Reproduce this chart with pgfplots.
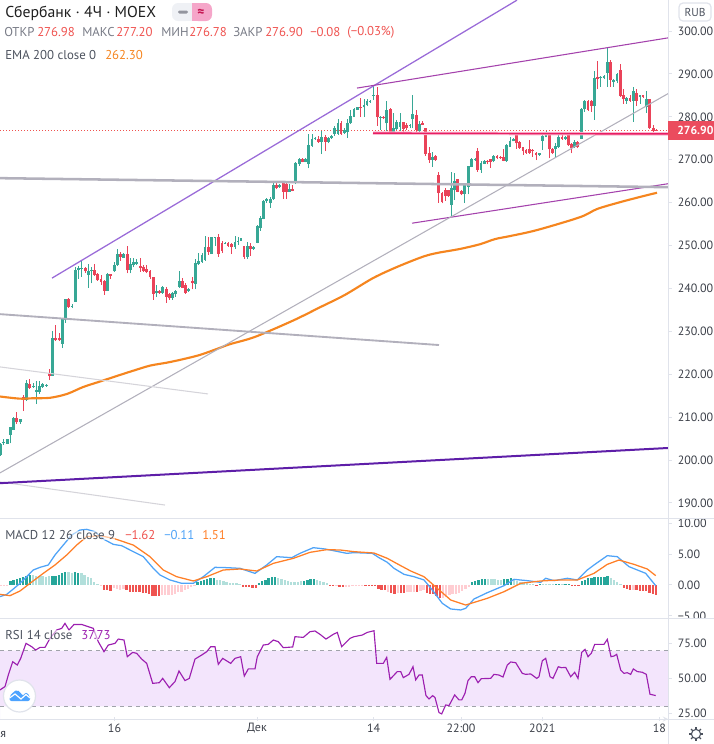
\documentclass[border=0pt]{standalone}
\usepackage{fontspec}
\setmainfont{PT Sans}
\usepackage{pgfplots}
\usepackage{pgfplotstable}
\usetikzlibrary{calc}
\pgfplotsset{compat=1.18}
\definecolor{upc}{HTML}{37A795}
\definecolor{dnc}{HTML}{EA4359}
\definecolor{dg}{HTML}{26A69A}
\definecolor{lg}{HTML}{B2DFDB}
\definecolor{dr}{HTML}{EF5350}
\definecolor{lr}{HTML}{FFCDD2}
\definecolor{sep}{HTML}{E0E3EB}
\definecolor{axt}{HTML}{3C4049}
\definecolor{leg}{HTML}{4C525E}
\definecolor{gry}{HTML}{787B86}
\definecolor{redt}{HTML}{EF5350}
\definecolor{ema}{HTML}{F5851F}
\definecolor{chan}{HTML}{9A6BD8}
\definecolor{mag}{HTML}{A442AC}
\definecolor{tg}{HTML}{B2B0BC}
\definecolor{rsil}{HTML}{9C1FB0}
\definecolor{band}{HTML}{F3E5FC}
\definecolor{crim}{HTML}{E91E63}
\definecolor{deep}{HTML}{5E1EA8}
\definecolor{macdb}{HTML}{4FA3F7}
\definecolor{macdo}{HTML}{FF7F27}
\definecolor{pnk}{HTML}{F5A6C9}
\definecolor{lblr}{HTML}{EB4C5E}
\definecolor{tvb}{HTML}{4DA3FF}
\pgfplotstableread{
x o h l c
0.7 201.2 203.9 201.0 203.7
3.7 203.9 204.8 203.5 204.3
7.3 203.8 205.0 203.7 204.8
10.3 205.8 207.8 203.9 207.8
13.7 207.1 210.1 207.0 209.9
16.7 209.9 211.3 208.5 208.8
20.3 208.8 209.6 208.5 209.5
23.3 214.7 215.1 211.4 214.0
26.3 214.0 218.6 213.7 217.9
29.3 217.8 218.9 216.5 216.9
33.3 217.0 217.9 216.9 217.2
36.3 215.9 218.5 213.0 216.3
39.3 215.8 218.4 215.5 217.3
42.3 217.1 217.9 216.9 217.8
46.3 217.4 217.7 217.1 217.6
49.3 220.3 221.1 218.6 219.6
52.3 219.6 230.1 219.6 228.4
55.3 228.5 231.5 227.7 227.9
59.3 228.5 229.5 227.7 227.9
62.3 227.0 233.2 226.1 233.0
65.3 232.6 237.5 232.0 237.5
68.3 237.5 237.7 235.5 235.6
72.0 235.8 236.4 235.4 236.0
75.3 236.9 244.9 236.9 244.3
78.3 244.3 245.2 242.3 244.7
81.7 244.6 246.5 242.7 244.8
85.3 244.7 244.9 243.6 244.0
88.3 243.1 245.8 240.2 244.1
91.7 244.0 245.1 241.2 244.4
94.7 244.4 245.7 243.0 243.2
97.7 243.3 243.7 241.8 241.9
101.0 242.2 243.1 240.8 241.5
104.3 241.7 241.9 238.5 239.4
107.3 239.4 243.5 239.4 243.3
110.7 243.3 243.3 242.2 242.9
114.3 244.0 246.2 243.9 245.4
117.3 245.4 249.1 245.2 248.0
120.3 248.0 248.5 246.4 247.4
123.7 247.2 248.2 247.2 248.0
127.3 248.0 249.9 243.5 244.4
130.3 244.4 247.0 243.5 245.6
133.3 245.5 247.0 244.9 246.2
136.7 245.8 246.8 245.4 246.2
140.3 245.3 247.2 243.9 244.7
143.7 244.9 245.4 243.9 244.1
146.7 244.5 245.4 243.5 243.8
150.0 244.0 244.3 242.3 242.6
153.3 242.7 242.7 237.4 238.8
156.7 239.0 240.8 238.1 239.3
159.7 239.5 239.6 238.7 239.0
162.7 239.0 240.5 238.7 240.3
166.3 239.9 240.4 236.7 238.1
169.3 238.7 239.0 237.4 237.7
172.7 237.8 239.2 237.4 239.0
175.7 238.6 239.6 238.1 239.5
179.3 240.4 244.0 240.2 241.7
182.7 241.7 242.5 240.0 240.2
185.7 240.8 241.2 238.7 239.0
188.7 239.5 240.2 239.2 239.9
192.3 241.7 242.6 239.8 241.2
195.3 241.0 246.8 239.8 246.0
198.7 245.6 248.3 245.4 246.4
202.0 246.2 248.2 246.0 247.8
205.0 246.6 252.2 246.5 249.7
208.3 249.6 252.0 247.8 248.6
211.7 248.0 252.0 248.0 251.9
215.0 251.7 252.0 249.9 251.9
218.3 252.0 252.8 247.4 248.0
222.0 250.6 251.1 248.2 248.8
225.0 250.5 250.9 250.3 250.7
228.0 250.6 250.8 249.7 249.9
231.7 250.3 250.5 248.0 249.6
235.0 249.6 252.2 249.3 250.9
238.0 250.8 252.0 250.1 251.1
241.0 251.1 251.8 251.0 251.7
244.0 250.0 250.0 246.9 247.4
247.3 247.4 250.9 246.9 250.0
250.3 249.9 250.7 247.6 249.2
253.7 249.2 249.9 249.0 249.7
257.3 250.7 254.8 250.5 254.5
260.3 254.1 256.9 253.4 256.3
263.7 256.2 260.6 256.1 260.4
266.7 260.3 261.0 260.0 260.8
270.3 259.8 261.2 258.8 260.8
273.3 260.8 264.5 260.6 264.0
276.7 264.0 265.0 263.1 263.4
279.7 263.6 264.3 263.5 264.1
283.3 264.6 264.6 260.8 262.5
286.3 264.4 264.6 260.8 262.5
289.3 262.5 264.3 262.5 263.1
292.7 263.1 264.1 262.6 262.8
295.7 264.6 269.5 264.3 269.3
299.3 269.1 270.3 268.6 270.2
302.3 270.2 270.5 269.4 269.5
305.3 269.5 270.3 269.4 270.2
308.3 269.0 276.1 268.0 273.4
312.0 273.2 276.0 273.0 274.9
315.0 274.8 275.2 274.6 275.1
318.3 274.8 275.6 274.0 274.2
321.7 274.2 276.6 271.3 275.2
325.3 275.4 275.8 272.0 274.2
328.3 274.2 275.4 273.8 275.1
331.7 275.1 275.7 274.9 275.5
334.7 276.0 277.9 275.5 277.3
338.0 276.0 279.5 275.8 278.5
341.0 278.6 279.0 275.8 276.0
344.3 276.3 277.3 276.0 276.9
347.3 276.5 279.4 275.1 278.6
350.7 278.5 281.7 278.3 280.2
354.0 279.9 282.1 279.9 281.8
357.3 281.6 282.4 281.6 282.3
360.3 282.3 284.5 279.9 282.0
364.0 282.2 284.1 279.9 282.8
367.0 282.7 284.1 282.5 283.6
370.0 283.4 283.9 283.3 283.8
373.3 284.9 287.4 283.9 285.1
377.3 285.1 287.0 277.9 279.9
380.3 279.7 280.2 276.9 279.9
383.7 280.0 280.3 279.4 279.7
386.7 278.5 283.8 276.7 281.7
390.3 281.9 282.1 275.8 276.5
393.3 276.5 280.8 276.3 277.3
396.7 277.2 279.3 276.9 278.7
400.0 277.7 280.8 276.8 278.7
403.3 278.7 278.9 276.3 277.2
406.3 278.2 278.5 276.9 277.4
410.0 278.0 278.3 277.3 278.2
412.7 279.4 285.1 277.3 280.6
416.3 280.4 281.6 276.3 276.9
419.3 276.8 279.0 276.2 278.4
422.3 278.5 279.0 278.1 278.2
425.7 277.3 277.5 270.9 271.3
429.3 271.5 272.9 269.3 269.9
432.3 269.9 271.9 268.4 270.7
435.3 270.9 271.0 269.8 269.9
438.7 266.4 267.2 260.0 262.2
442.0 262.2 262.5 259.8 260.2
445.3 262.9 263.3 260.4 261.5
448.3 262.9 262.9 261.4 261.5
451.3 259.4 267.2 256.7 263.4
454.7 262.9 266.8 260.6 265.1
457.7 265.4 265.6 262.4 262.5
461.3 262.8 262.9 261.7 261.9
464.7 262.0 264.5 260.0 264.1
468.3 263.7 268.5 261.9 268.5
471.7 268.4 270.5 268.2 270.2
475.0 269.9 270.3 269.8 270.2
477.3 272.1 272.7 267.2 267.6
481.0 267.6 269.7 267.0 269.3
484.3 269.1 269.9 269.0 269.7
487.3 269.7 269.9 268.9 269.4
490.3 270.1 270.1 268.1 269.5
493.3 269.6 271.0 269.4 270.9
497.0 270.9 271.0 270.1 270.5
500.3 270.7 270.9 270.2 270.4
503.3 270.6 272.4 269.6 269.8
506.7 269.7 273.7 269.5 273.4
510.0 273.0 275.4 273.0 274.4
513.3 274.3 275.1 274.3 274.8
516.3 276.3 276.3 272.5 273.8
519.3 274.2 274.4 272.6 272.7
523.0 272.9 273.0 271.1 272.0
526.0 272.3 272.5 271.3 271.6
529.3 272.4 274.6 271.4 271.6
532.7 272.3 272.4 270.7 272.0
536.0 271.6 271.8 269.9 271.0
539.3 271.1 271.6 270.9 271.5
542.7 274.4 275.8 272.3 275.5
546.0 275.2 276.8 275.2 275.8
549.3 276.3 276.3 270.3 272.4
552.3 272.4 272.7 271.3 271.6
555.3 272.4 273.8 270.3 273.2
558.7 273.0 275.8 272.8 275.4
562.0 275.4 275.8 274.7 274.9
565.3 274.9 275.5 274.6 275.4
568.7 275.8 275.9 273.3 273.4
571.3 273.7 273.8 271.5 272.7
574.7 272.9 274.6 272.7 274.2
577.7 274.2 274.4 272.7 272.9
581.3 274.8 282.1 274.8 281.8
584.7 281.8 283.9 281.2 283.8
588.0 283.7 283.9 281.4 281.6
591.3 283.7 283.9 281.2 282.5
594.3 282.5 290.7 279.3 289.0
597.3 289.2 292.9 286.4 288.8
600.7 289.0 289.5 287.0 289.2
604.0 289.1 289.7 288.8 289.4
607.3 290.3 296.0 287.0 292.7
610.7 292.7 293.2 286.9 288.6
613.7 288.2 288.7 287.0 288.6
617.0 288.4 290.1 287.8 290.0
620.3 290.9 292.3 284.7 284.9
623.3 285.1 286.6 283.0 284.1
626.7 283.7 284.7 283.0 284.3
630.0 284.5 285.1 283.5 283.7
633.3 283.8 286.9 278.9 286.1
636.3 285.6 286.6 282.5 283.8
640.0 284.7 285.2 283.1 285.0
643.0 285.1 285.2 284.5 284.6
646.3 282.2 286.1 281.0 284.1
649.7 284.1 284.2 277.1 277.3
653.7 277.3 278.0 276.0 276.8
656.0 276.98 277.20 276.78 276.90
}\candles
\pgfplotstableread[row sep=\\]{
v k \\
-.16 4\\ -.16 4\\ -.16 4\\ .65 1\\ .75 1\\ .97 1\\ 1.08 1\\ 1.29 1\\ 1.51 1\\ 1.61 1\\
1.61 2\\ 1.51 2\\ 1.45 2\\ 1.40 2\\ 1.34 2\\ 1.40 2\\ 1.40 1\\ 1.45 1\\ 1.61 1\\ 1.99 1\\
2.04 1\\ 2.04 2\\ 1.99 2\\ 2.04 1\\ 1.99 1\\ 1.88 2\\ 1.61 2\\ 1.34 2\\ 1.08 2\\ .43 2\\
.16 2\\ -.16 4\\ -.75 3\\ -.81 3\\ -.91 3\\ -.54 4\\ -.65 4\\ -.75 4\\ -.65 4\\ -.81 3\\
-1.08 3\\ -1.08 3\\ -1.18 3\\ -1.18 3\\ -1.29 3\\ -1.29 3\\ -1.51 3\\ -1.83 3\\ -1.83 3\\ -1.77 3\\
-1.61 4\\ -1.61 4\\ -1.61 4\\ -1.61 4\\ -1.40 4\\ -1.18 4\\ -1.08 4\\ -.75 4\\ -.65 4\\ -.32 4\\
-.11 4\\ .54 1\\ .65 1\\ .86 1\\ .97 1\\ 1.08 1\\ 1.18 1\\ .86 2\\ .75 2\\ .65 2\\
.54 2\\ .32 2\\ .32 2\\ .32 2\\ .16 2\\ -.27 3\\ -.27 3\\ -.32 3\\ -.43 3\\ -.54 3\\
.32 1\\ .65 1\\ .86 1\\ 1.08 1\\ 1.24 1\\ 1.29 1\\ 1.08 2\\ .97 2\\ .86 2\\ .65 2\\
.54 2\\ .43 2\\ .54 2\\ .65 2\\ .70 1\\ .86 1\\ .97 1\\ .97 1\\ .86 2\\ .65 2\\
.43 2\\ .27 2\\ -.05 3\\ -.05 3\\ -.11 4\\ -.27 3\\ -.32 3\\ -.38 4\\ -.32 4\\ -.22 4\\
-.11 4\\ -.05 4\\ -.05 4\\ -.05 3\\ -.05 3\\ -.05 3\\ -.11 3\\ -.65 3\\ -.75 3\\ -.86 3\\
-1.08 4\\ -1.29 3\\ -1.40 3\\ -1.29 4\\ -1.34 3\\ -1.34 3\\ -1.18 4\\ -1.18 4\\ -1.08 4\\ -1.08 3\\
-.97 4\\ -.86 4\\ -1.29 3\\ -1.40 3\\ -1.51 3\\ -1.83 3\\ -2.15 3\\ -2.04 4\\ -1.94 4\\ -1.61 4\\
-1.51 4\\ -1.40 4\\ -1.29 4\\ -.97 4\\ -.65 4\\ -.27 4\\ .43 1\\ .65 1\\ .81 1\\ .91 1\\
.97 1\\ .97 2\\ .97 2\\ .97 2\\ .86 2\\ .86 2\\ .97 1\\ .97 1\\ 1.08 1\\ .86 2\\
.65 2\\ .54 2\\ .54 2\\ .38 2\\ .22 2\\ .11 2\\ -.11 3\\ .11 1\\ .22 2\\ .11 2\\
.16 2\\ .16 2\\ .22 1\\ .22 1\\ .22 2\\ .22 1\\ .16 1\\ -.11 3\\ -.11 3\\ -.16 3\\
.65 1\\ .86 1\\ 1.08 1\\ 1.18 1\\ 1.29 1\\ 1.29 1\\ 1.29 1\\ 1.34 1\\ 1.40 1\\ 1.18 2\\
.86 2\\ .54 2\\ .16 2\\ -.54 3\\ -.65 3\\ -.75 3\\ -.75 4\\ -.86 3\\ -.97 3\\ -.97 3\\
-.97 3\\ -1.29 3\\ -1.51 3\\ -1.62 3\\
}\hist
\pgfplotsset{
  base/.style={scale only axis,width=501pt,xmin=0,xmax=668,axis y line=right,
    axis line style={draw=sep,line width=.75pt,-},
    tick style={draw=sep,line width=.75pt},tick align=outside,major tick length=3pt,
    yticklabel style={font=\fontsize{9.0}{10}\selectfont,text=axt,inner sep=0pt,anchor=west,xshift=4.2pt},
    clip=true},
  wick/.style={draw=none,mark=none,forget plot,error bars/.cd,y dir=plus,y explicit,error mark=none,
    error bar style={color=#1,solid,line width=.75pt,line cap=butt}},
  body/.style={draw=none,mark=none,forget plot,error bars/.cd,y dir=plus,y explicit,error mark=none,
    error bar style={color=#1,solid,line width=2pt,line cap=butt}},
  bars/.style={ycomb,mark=none,color=#1,line width=1.75pt,line cap=butt,forget plot},
}
\begin{document}
\begin{tikzpicture}
\path[use as bounding box] (0pt,0pt) rectangle (535.5pt,-558pt);
\begin{axis}[base,axis x line=none,at={(0pt,-388.5pt)},anchor=south west,height=388.5pt,
  ymin=186.48,ymax=307.23,
  ytick={190,200,210,220,230,240,250,260,270,280,290,300},
  yticklabels={190.00,200.00,210.00,220.00,230.00,240.00,250.00,260.00,270.00,280.00,290.00,300.00}]
% dotted last price
\addplot[color=redt,line width=.75pt,dash pattern=on .75pt off 1.5pt,forget plot] coordinates {(0,276.9)(668,276.9)};
% candles
\addplot[wick=upc] table[x=x,y=l,y error plus expr={(\thisrow{c}>=\thisrow{o})*(\thisrow{h}-\thisrow{l})}] {\candles};
\addplot[wick=dnc] table[x=x,y=l,y error plus expr={(\thisrow{c}<\thisrow{o})*(\thisrow{h}-\thisrow{l})}] {\candles};
\addplot[body=upc] table[x=x,y=o,y error plus expr={(\thisrow{c}>=\thisrow{o})*(\thisrow{c}-\thisrow{o})}] {\candles};
\addplot[body=dnc] table[x=x,y=c,y error plus expr={(\thisrow{c}<\thisrow{o})*(\thisrow{o}-\thisrow{c})}] {\candles};
% EMA
\addplot[color=ema,line width=1.6pt,smooth,tension=.5] coordinates {
(0,214.8)(20,214.3)(33,214.4)(50,214.5)(67,215.4)(83,217.0)(100,218.3)(117,219.6)(133,220.8)(150,222.0)
(167,222.7)(183,223.5)(200,224.5)(217,225.9)(230,227.0)(255,228.7)(293,232.5)(320,235.6)(345,238.5)(373,242.4)
(397,245.0)(423,247.4)(438,248.3)(460,249.2)(480,250.3)(495,251.5)(510,252.2)(537,253.6)
(580,256.6)(597,258.5)(620,260.1)(643,261.5)(657,262.3)};
% drawings
\addplot[color=chan,line width=.95pt] coordinates {(52,242.4)(517,307.2)};
\addplot[color=mag,line width=.8pt] coordinates {(357,286.7)(668,298.4)};
\addplot[color=mag,line width=.8pt] coordinates {(412,255.2)(668,264.4)};
\addplot[color=tg,line width=.8pt] coordinates {(0,197.0)(668,285.4)};
\addplot[color=tg,line width=1.9pt] coordinates {(0,265.7)(668,263.6)};
\addplot[color=tg,line width=1.4pt] coordinates {(0,234.0)(439,226.8)};
\addplot[color=tg!55,line width=.8pt] coordinates {(0,221.7)(208,215.4)};
\addplot[color=tg!55,line width=.8pt] coordinates {(0,194.9)(165,189.5)};
\addplot[color=deep,line width=1.5pt] coordinates {(0,194.6)(668,202.8)};
\addplot[color=crim!30,line width=2.6pt] coordinates {(373,276.2)(668,276.0)};
\addplot[color=crim,line width=1.1pt] coordinates {(373,276.2)(668,276.0)};
\end{axis}
\begin{axis}[base,axis x line=none,at={(0pt,-463.7pt)},anchor=south west,height=75.2pt,ymin=-5.37,ymax=10.81,
  ytick={-5,0,5,10},yticklabels={−5.00,0.00,5.00,10.00}]
\addplot[bars=dg] table[x expr={\coordindex*3.228+0.7},y expr={(\thisrow{k}==1)*\thisrow{v}}] {\hist};
\addplot[bars=lg] table[x expr={\coordindex*3.228+0.7},y expr={(\thisrow{k}==2)*\thisrow{v}}] {\hist};
\addplot[bars=dr] table[x expr={\coordindex*3.228+0.7},y expr={(\thisrow{k}==3)*\thisrow{v}}] {\hist};
\addplot[bars=lr] table[x expr={\coordindex*3.228+0.7},y expr={(\thisrow{k}==4)*\thisrow{v}}] {\hist};
\addplot[color=macdb,line width=.95pt] coordinates {
(0,-1.88)(6.7,-1.51)(13.3,-.65)(20,.27)(26.7,1.34)(33.3,2.42)(40,2.85)(48.3,3.23)(55,4.84)(63.3,6.45)(71.7,8.06)(80,8.87)(86.7,8.98)(95,8.60)(103.3,7.42)(113.3,6.56)(121.7,6.34)(133.3,5.38)(143.3,4.57)(153.3,2.69)(160,1.61)(170,.81)(181.7,.27)(193.3,.27)(203.3,1.34)(215,2.85)(226.7,2.80)(240,2.69)(255,1.88)(266.7,3.23)(276.7,4.57)(291.7,4.41)(300,5.11)(313.3,6.02)(325,5.81)(346.7,5.11)
(354,5.22)(372.3,5.11)(379,4.41)(387.3,3.66)(394,2.69)(404,1.72)(414,1.34)(424,.81)(432.3,-.81)(442.3,-2.96)(450.7,-3.87)(460.7,-4.03)(465.7,-3.76)(474,-2.26)(487.3,-1.24)(504,-.11)(514,.91)(527.3,.70)(540.7,.43)(545.7,1.08)(554,.70)(567.3,1.08)(577.3,.81)(587.3,2.42)(594,3.23)(607.3,4.73)(617.3,4.57)(629,2.96)(645.7,1.88)(655.7,-.11)};
\addplot[color=macdo,line width=.95pt] coordinates {
(0,-1.51)(10,-1.72)(20,-.97)(30,.27)(43.3,1.88)(55,3.23)(66.7,4.84)(76.7,6.45)(86.7,7.80)(100,7.96)(113.3,7.53)(133.3,6.45)(150,4.57)(163.3,2.42)(176.7,1.34)(193.3,.65)(206.7,1.34)(223.3,2.42)(240,2.58)(256.7,2.26)(273.3,3.49)(293.3,4.30)(310,5.27)(326.7,5.70)(340,5.65)
(354,5.38)(374,5.16)(387.3,4.30)(400.7,3.12)(410.7,2.26)(424,1.34)(437.3,-.54)(450.7,-2.42)(465.7,-3.23)(487.3,-2.15)(504,-1.08)(520.7,.27)(540.7,.65)(560.7,.81)(577.3,.81)(594,1.88)(607.3,3.33)(619,4.03)(634,3.33)(647.3,2.58)(655.7,1.51)};
\end{axis}
\fill[white] (501.5pt,-463.7pt) rectangle (535.5pt,-473pt);
\begin{axis}[base,at={(0pt,-539.25pt)},anchor=south west,height=75.5pt,ymin=20.86,ymax=93.3,
  axis x line=bottom,xtick={114.5,257,373.7,461,542.3,659.3},xticklabels={16,Дек,14,22:00,2021,18},
  xticklabel style={font=\fontsize{9.0}{10}\selectfont,text=axt,inner sep=0pt,anchor=center,yshift=-5.2pt},
  ytick={25,50,75},yticklabels={25.00,50.00,75.00}]
\addplot[fill=band,draw=none,forget plot] coordinates {(0,30)(668,30)(668,70)(0,70)} \closedcycle;
\addplot[color=gry!70,line width=.75pt,dash pattern=on 3pt off 3pt] coordinates {(0,70)(668,70)};
\addplot[color=gry!70,line width=.75pt,dash pattern=on 3pt off 3pt] coordinates {(0,30)(668,30)};
\addplot[color=rsil,line width=.85pt] coordinates {
(0,41.8)(5,44.2)(8.3,52.5)(12.7,62.1)(17.3,59.7)(20.7,64.5)(26,75.3)(31.7,72.9)(35.7,70.5)(40,72.4)(45,72.4)(50,78.9)(56.7,84.9)(61.7,86.1)(65,89.7)(69,84.9)(74,88.9)(81.7,88.9)(88.3,87.3)(93.3,86.1)(98.3,76.5)(104,69.3)(108.3,74.1)(115,75.3)(118.3,78.4)(124,77.7)(127.3,65.7)(132.7,68.8)(136.7,68.1)(141.7,64.0)(146.7,60.9)(152.7,46.5)(159.3,47.0)(162.7,50.1)(169.3,43.4)(175,47.8)(179,55.4)(185,48.5)(189.3,50.1)(195,64.0)(201.7,66.9)(206.7,69.3)(210.7,72.9)(215,72.9)(218.3,60.2)(222.7,64.5)(230.7,60.9)(235,64.5)(240.7,65.7)(244.3,51.8)(248.3,56.9)(255,56.9)(257.3,65.7)(263.3,74.1)(268.3,74.6)(273.3,77.7)(278.3,76.5)(283.3,72.2)(292.7,72.7)(295,80.1)(303.3,79.6)(310,83.7)(315,84.2)(320,81.8)(326,78.4)(333.3,81.8)(337.3,83.2)(341.7,72.9)(350,78.9)
(354,80.1)(362.3,81.3)(367.3,83.2)(374,84.4)(376.7,60.9)(383.3,60.9)(386.7,65.2)(390,49.4)(397.3,55.0)(400.7,55.0)(403.3,50.6)(409,53.0)(413,58.5)(415.7,49.0)(419,52.5)(422.3,52.5)(426,37.7)(429,35.3)(432.7,37.7)(435,36.3)(439,25.5)(441.7,24.5)(445.7,31.0)(449,30.5)(454.7,38.2)(459,34.6)(461.7,34.6)(465,39.4)(468,48.5)(471.3,51.3)(474.7,51.3)(478,47.0)(481.3,49.9)(490.7,50.1)(494,53.0)(499,52.5)(503,51.1)(507.3,59.7)(510.7,61.9)(515.7,61.4)(522.3,53.7)(525.7,53.0)(530.7,53.3)(536.7,50.1)(539,51.3)(542.3,62.8)(545.7,64.5)(550,51.3)(553,50.1)(558.3,58.5)(561.3,57.8)(565.7,58.0)(570.7,51.3)(574.7,54.5)(578,50.1)(581.7,68.8)(585,71.0)(588,65.7)(591.3,68.1)(594.7,74.6)(604,74.6)(607.3,78.2)(611,65.7)(614,66.2)(616.7,67.4)(620.7,56.1)(624,53.7)(627.3,54.2)(630.7,53.0)(633.3,56.9)(637.3,55.0)(642.3,54.5)(646.3,53.0)(650,38.7)(655.7,37.73)};
\end{axis}
\begin{scope}[x=.75pt,y=-.75pt]
% separators
\draw[sep,line width=.75pt] (0,518) -- (714,518);
\draw[sep,line width=.75pt] (0,618.3) -- (714,618.3);
\draw[sep,line width=.75pt] (0,719) -- (714,719);
\draw[sep,line width=.75pt] (668,0) -- (668,744);
% header
\node[anchor=west,inner sep=0pt,text=black!88,font=\fontsize{11.8}{13}\selectfont] at (5,13) {Сбербанк · 4Ч · MOEX};
\fill[sep!50,rounded corners=4.5pt] (172,3) rectangle (192,21);
\fill[sep!50] (186,3) rectangle (192,21);
\fill[pnk,rounded corners=4.5pt] (192,3) rectangle (212,21);
\fill[pnk] (192,3) rectangle (198,21);
\fill[gry!80,rounded corners=1pt] (178,10.5) rectangle (188,13.5);
\node[inner sep=0pt,text=crim!85!black,font=\fontsize{10}{10}\selectfont\bfseries] at (201,12.5) {≈};
\begin{scope}[every node/.style={anchor=west,inner sep=0pt,font=\fontsize{9.6}{11}\selectfont}]
\node[text=gry] at (4,32) {ОТКР};
\node[text=redt] at (37,32) {276.98};
\node[text=gry] at (82,32) {МАКС};
\node[text=redt] at (116,32) {277.20};
\node[text=gry] at (161,32) {МИН};
\node[text=redt] at (189,32) {276.78};
\node[text=gry] at (233,32) {ЗАКР};
\node[text=redt] at (265,32) {276.90};
\node[text=redt] at (310,32) {−0.08};
\node[text=redt] at (347,32) {(−0.03\%)};
\node[text=leg] at (5,55) {EMA 200 close 0};
\node[text=ema] at (105,55) {262.30};
\begin{scope}[every node/.append style={fill=white,fill opacity=.55,text opacity=1}]
\node[text=leg] at (5,535.5) {MACD 12 26 close 9};
\node[text=redt] at (125,535.5) {−1.62};
\node[text=macdb] at (164,535.5) {−0.11};
\node[text=macdo] at (202,535.5) {1.51};
\node[text=leg] at (5,635) {RSI 14 close};
\node[text=rsil] at (81,635) {37.73};
\end{scope}
\end{scope}
% RUB button
\draw[sep,line width=.9pt,fill=white,rounded corners=3pt] (679,3) rectangle (711,21);
\node[inner sep=0pt,text=leg,font=\fontsize{8.6}{10}\selectfont] at (695,12.3) {RUB};
% price label
\fill[lblr] (668,121) rectangle (714,140);
\node[anchor=west,inner sep=0pt,text=white,font=\fontsize{8.8}{10}\selectfont\bfseries] at (677,130.5) {276.90};
% clipped month label
\node[anchor=west,inner sep=0pt,text=axt,font=\fontsize{9.0}{10}\selectfont] at (0,734) {я};
% gear
\draw[leg,line width=.8pt] (696,734) circle (4.6);
\foreach \a in {0,45,...,315}{\draw[leg,line width=.9pt] ($(696,734)+(\a:4.6)$) -- ($(696,734)+(\a:7)$);}
% logo
\draw[sep,line width=.9pt,fill=white] (19.5,696) circle (16);
\fill[tvb,rounded corners=1.5pt] (9.5,701) -- (9.5,696) -- (13,692.5) -- (17,689.5) -- (20,692) -- (23,696) -- (26,692) -- (30,696) -- (30,701) -- cycle;
\draw[white,line width=.9pt] (9.5,698) -- (15,694) -- (21,699) -- (26,694.5) -- (30,698);
\end{scope}
\end{tikzpicture}
\end{document}
